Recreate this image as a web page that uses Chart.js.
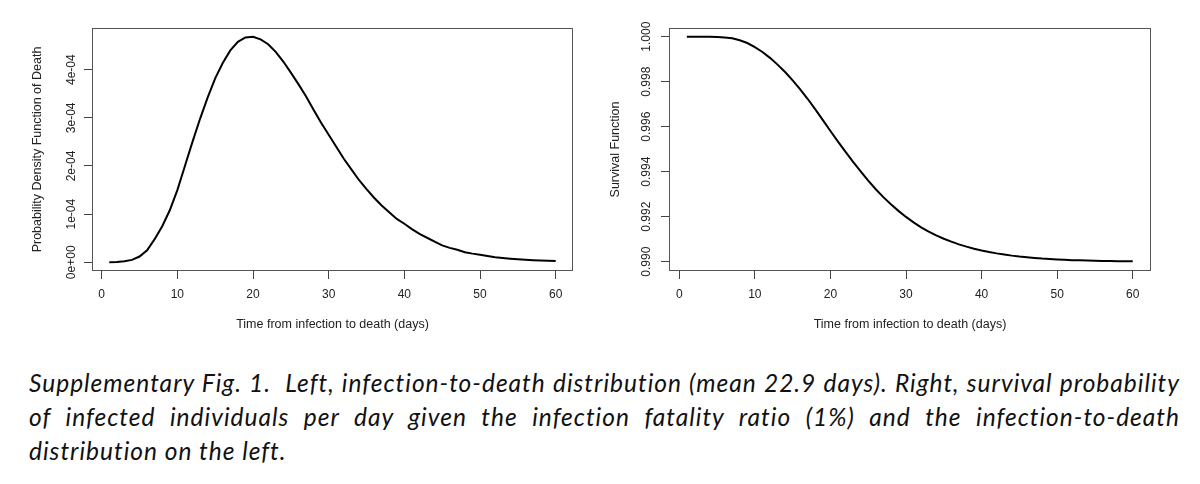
<!DOCTYPE html>
<html><head><meta charset="utf-8">
<script src="https://cdn.jsdelivr.net/npm/chart.js@4.4.1/dist/chart.umd.min.js"></script>
<style>
html,body{margin:0;padding:0;background:#fff;width:1200px;height:484px;overflow:hidden;}
#c1{position:absolute;left:0;top:0;}
#c2{position:absolute;left:590px;top:0;}
#cap{position:absolute;left:29px;top:366px;width:1170px;font-family:Lato,"Open Sans",sans-serif;font-style:italic;font-size:24.5px;line-height:34px;color:#111;}
#cap div{white-space:nowrap;height:34px;}
#cap span{display:inline-block;white-space:nowrap;}
</style></head><body>
<canvas id="c1" width="600" height="340"></canvas>
<canvas id="c2" width="610" height="340"></canvas>
<div id="cap">
<div><span id="l1">Supplementary Fig. 1.&nbsp; Left, infection-to-death distribution (mean 22.9 days). Right, survival probability</span></div>
<div><span id="l2">of infected individuals per day given the infection fatality ratio (1%) and the infection-to-death</span></div>
<div><span id="l3">distribution on the left.</span></div>
</div>
<script>
// ---- data ----
const days = [1,2,3,4,5,6,7,8,9,10,11,12,13,14,15,16,17,18,19,20,21,22,23,24,25,26,27,28,29,30,
              31,32,33,34,35,36,37,38,39,40,41,42,43,44,45,46,47,48,49,50,51,52,53,54,55,56,57,58,59,60];
const deathDensity = [0, 0.005e-4, 0.02e-4, 0.05e-4, 0.12e-4, 0.25e-4, 0.48e-4, 0.75e-4, 1.08e-4, 1.50e-4,
  2.00e-4, 2.50e-4, 2.98e-4, 3.42e-4, 3.82e-4, 4.14e-4, 4.40e-4, 4.58e-4, 4.67e-4, 4.685e-4,
  4.63e-4, 4.53e-4, 4.37e-4, 4.17e-4, 3.94e-4, 3.70e-4, 3.45e-4, 3.17e-4, 2.90e-4, 2.65e-4,
  2.40e-4, 2.15e-4, 1.93e-4, 1.71e-4, 1.52e-4, 1.34e-4, 1.18e-4, 1.04e-4, 0.90e-4, 0.80e-4,
  0.69e-4, 0.59e-4, 0.51e-4, 0.43e-4, 0.35e-4, 0.30e-4, 0.26e-4, 0.21e-4, 0.18e-4, 0.155e-4,
  0.13e-4, 0.105e-4, 0.09e-4, 0.075e-4, 0.062e-4, 0.052e-4, 0.044e-4, 0.037e-4, 0.031e-4, 0.027e-4];
const survival = [1.000000, 1.000000, 0.999998, 0.999994, 0.999986, 0.99997, 0.99993, 0.99984, 0.99972, 0.99954,
  0.99932, 0.99906, 0.99876, 0.99843, 0.99806, 0.99766, 0.99723, 0.99677, 0.99629, 0.99581,
  0.99534, 0.99488, 0.99444, 0.99402, 0.99360, 0.99322, 0.99287, 0.99255, 0.99226, 0.99199,
  0.99175, 0.99153, 0.99134, 0.99117, 0.99102, 0.99089, 0.99077, 0.99067, 0.99058, 0.99050,
  0.99043, 0.99037, 0.99032, 0.99027, 0.99023, 0.99020, 0.99017, 0.99014, 0.99012, 0.99010,
  0.990085, 0.99007, 0.99006, 0.99005, 0.99004, 0.990033, 0.990027, 0.990022, 0.990018, 0.990015];
const xTickValues = [0,10,20,30,40,50,60];
const xTickLabels = ['0','10','20','30','40','50','60'];
const densityTickValues = [0,1e-4,2e-4,3e-4,4e-4];
const densityTickLabels = ['0e+00','1e-04','2e-04','3e-04','4e-04'];
const survivalTickValues = [0.990,0.992,0.994,0.996,0.998,1.000];
const survivalTickLabels = ['0.990','0.992','0.994','0.996','0.998','1.000'];
const xTitle = 'Time from infection to death (days)';

// ---- chart setup ----
Chart.defaults.font.family = '"Liberation Sans", Arial, sans-serif';
Chart.defaults.color = '#222';
const boxPlugin = { id:'box', afterDraw(chart){ const {ctx, chartArea:a} = chart; ctx.save(); ctx.strokeStyle='#555'; ctx.lineWidth=1;
  ctx.strokeRect(Math.round(a.left)+0.5, Math.round(a.top)+0.5, Math.round(a.right-a.left)-1, Math.round(a.bottom-a.top)-1); ctx.restore(); } };

function makeChart(id, yVals, cfg){
  const pts = days.map((d,i)=>({x:d, y:yVals[i]}));
  return new Chart(document.getElementById(id), {
    type:'line',
    data:{datasets:[{data:pts, borderColor:'#000', borderWidth:2, pointRadius:0, tension:0, fill:false}]},
    plugins:[boxPlugin],
    options:{
      responsive:false, animation:false, events:[],
      layout:{padding:{top:28, right:cfg.padRight, left:0, bottom:0}},
      plugins:{legend:{display:false}, tooltip:{enabled:false}},
      scales:{
        x:{type:'linear', min:cfg.xmin, max:cfg.xmax,
          afterBuildTicks:s=>{ s.ticks = xTickValues.map(v=>({value:v})); },
          afterFit:s=>{ s.height = 69; },
          ticks:{callback:(v)=>xTickLabels[xTickValues.indexOf(v)], font:{size:12}, padding:8.8, maxRotation:0, autoSkip:false},
          grid:{display:true, drawOnChartArea:false, drawTicks:true, tickLength:8, color:'#444', lineWidth:1},
          border:{display:false},
          title:{display:true, text:xTitle, font:{size:12.5}, padding:{top:0,bottom:7.5}}
        },
        y:{type:'linear', min:cfg.ymin, max:cfg.ymax,
          afterBuildTicks:s=>{ s.ticks = cfg.tickValues.map(v=>({value:v})); },
          afterFit:s=>{ s.width = cfg.yWidth; },
          ticks:{callback:(v)=>cfg.tickLabels[cfg.tickValues.indexOf(v)], font:{size:12}, minRotation:90, maxRotation:90, crossAlign:'center', padding:cfg.tickPad, autoSkip:false},
          grid:{display:true, drawOnChartArea:false, drawTicks:true, tickLength:8, color:'#444', lineWidth:1},
          border:{display:false},
          title:{display:true, text:cfg.yTitle, font:{size:12.5}, padding:{top:cfg.titlePad,bottom:0}}
        }
      }
    }
  });
}

makeChart('c1', deathDensity, {xmin:-1.28, xmax:62.29, ymin:-0.1807e-4, ymax:4.866e-4, padRight:27, yWidth:92,
  tickValues:densityTickValues, tickLabels:densityTickLabels, tickPad:-4.5, titlePad:30.5, yTitle:'Probability Density Function of Death'});
makeChart('c2', survival, {xmin:-1.363, xmax:62.42, ymin:0.989587, ymax:1.000387, padRight:49, yWidth:79,
  tickValues:survivalTickValues, tickLabels:survivalTickLabels, tickPad:-0.7, titlePad:18.5, yTitle:'Survival Function'});

// ---- caption fitting: letter spacing so line 1 fits its reference width, then justify lines 1 and 2 ----
(function(){
  const cap = document.getElementById('cap');
  const e1 = document.getElementById('l1'), e2 = document.getElementById('l2');
  const w1 = e1.getBoundingClientRect().width;
  const n1 = e1.textContent.length;
  let ls = (1146 - w1) / n1;
  ls = Math.max(-1.5, Math.min(1, ls));
  cap.style.letterSpacing = ls.toFixed(3)+'px';
  [e1,e2].forEach(el=>{
    const w = el.getBoundingClientRect().width;
    const n = (el.textContent.match(/[ \u00a0]/g)||[]).length;
    el.style.wordSpacing = Math.max(-2,(1151 - w)/n).toFixed(3)+'px';
  });
})();
</script>
</body></html>
